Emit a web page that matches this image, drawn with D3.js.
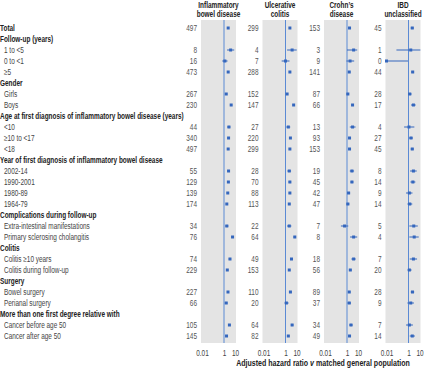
<!DOCTYPE html>
<html>
<head>
<meta charset="utf-8">
<script src="https://cdn.jsdelivr.net/npm/d3@7"></script>
<style>
  body { margin: 0; background: #fff; }
  svg text { font-family: "Liberation Sans", Arial, sans-serif; }
</style>
</head>
<body>
<div id="chart"></div>
<script>
// rows, top to bottom
const rowLabels = [
  "Total",
  "Follow-up (years)", "1 to <5", "0 to <1", "≥5",
  "Gender", "Girls", "Boys",
  "Age at first diagnosis of inflammatory bowel disease (years)", "<10", "≥10 to <17", "<18",
  "Year of first diagnosis of inflammatory bowel disease", "2002-14", "1990-2001", "1980-89", "1964-79",
  "Complications during follow-up", "Extra-intestinal manifestations", "Primary sclerosing cholangitis",
  "Colitis", "Colitis ≥10 years", "Colitis during follow-up",
  "Surgery", "Bowel surgery", "Perianal surgery",
  "More than one first degree relative with", "Cancer before age 50", "Cancer after age 50"
];
const rowKinds = [
  "total",
  "head", "item", "item", "item",
  "head", "item", "item",
  "head", "item", "item", "item",
  "head", "item", "item", "item", "item",
  "head", "item", "item",
  "head", "item", "item",
  "head", "item", "item",
  "head", "item", "item"
];

const panelTitles = [["Inflammatory", "bowel disease"], ["Ulcerative", "colitis"], ["Crohn’s", "disease"], ["IBD", "unclassified"]];

// number of cancers
const countsIBD  = [497, null, 8, 16, 473, null, 267, 230, null, 44, 340, 497, null, 55, 129, 139, 174, null, 34, 76, null, 74, 229, null, 227, 66, null, 105, 145];
const countsUC   = [299, null, 4, 7, 288, null, 152, 147, null, 27, 220, 299, null, 28, 70, 88, 113, null, 22, 64, null, 49, 153, null, 110, 20, null, 64, 82];
const countsCD   = [153, null, 3, 9, 141, null, 87, 66, null, 13, 93, 153, null, 19, 45, 42, 47, null, 7, 8, null, 18, 56, null, 89, 37, null, 34, 49];
const countsIBDU = [45, null, 1, 0, 44, null, 28, 17, null, 4, 27, 45, null, 8, 14, 9, 14, null, 5, 4, null, 7, 20, null, 28, 9, null, 7, 14];

// hazard ratios and 95% CI
const hrIBD = [2.4, null, 4.0, 1.2, 2.4, null, 1.6, 4.5, null, 2.8, 2.6, 2.4, null, 2.6, 2.5, 2.2, 1.8, null, 1.8, 6.0, null, 3.5, 2.0, null, 2.3, 1.6, null, 3.1, 1.7];
const loIBD = [2.2, null, 1.9, 0.7, 2.2, null, 1.4, 3.9, null, 2.0, 2.3, 2.2, null, 2.0, 2.1, 1.8, 1.5, null, 1.3, 4.7, null, 2.7, 1.7, null, 2.0, 1.2, null, 2.5, 1.4];
const hiIBD = [2.6, null, 8.5, 2.1, 2.6, null, 1.8, 5.2, null, 3.8, 2.9, 2.6, null, 3.4, 3.0, 2.6, 2.1, null, 2.5, 7.6, null, 4.4, 2.3, null, 2.6, 2.0, null, 3.8, 2.0];

const hrUC = [2.5, null, 4.0, 1.0, 2.5, null, 1.4, 5.5, null, 1.8, 2.8, 2.5, null, 2.2, 2.5, 2.5, 2.2, null, 2.2, 7.0, null, 3.5, 2.2, null, 2.8, 1.2, null, 4.0, 1.8];
const loUC = [2.2, null, 1.4, 0.45, 2.2, null, 1.2, 4.6, null, 1.2, 2.4, 2.2, null, 1.5, 1.9, 2.0, 1.8, null, 1.4, 5.4, null, 2.6, 1.9, null, 2.3, 0.8, null, 3.1, 1.4];
const hiUC = [2.8, null, 10.5, 2.3, 2.8, null, 1.7, 6.6, null, 2.7, 3.2, 2.8, null, 3.2, 3.2, 3.1, 2.7, null, 3.4, 9.0, null, 4.7, 2.6, null, 3.4, 1.9, null, 5.2, 2.3];

const hrCD = [1.7, null, 4.0, 1.9, 1.6, null, 1.2, 3.2, null, 3.2, 1.7, 1.7, null, 2.8, 2.8, 1.4, 1.2, null, 0.6, 4.0, null, 4.0, 2.0, null, 1.6, 1.6, null, 2.3, 1.7];
const loCD = [1.4, null, 1.0, 0.9, 1.3, null, 0.9, 2.5, null, 1.8, 1.4, 1.4, null, 1.8, 2.1, 1.0, 0.9, null, 0.28, 1.9, null, 2.5, 1.5, null, 1.3, 1.1, null, 1.6, 1.3];
const hiCD = [2.0, null, 8.5, 4.5, 1.9, null, 1.5, 4.2, null, 6.0, 2.1, 2.0, null, 4.4, 3.8, 1.9, 1.6, null, 1.3, 8.5, null, 6.2, 2.6, null, 2.0, 2.3, null, 3.3, 2.3];

const hrIBDU = [2.2, null, 1.6, 0.01, 2.4, null, 1.3, 2.8, null, 1.1, 1.7, 2.2, null, 2.8, 2.5, 1.2, 1.3, null, 3.0, 3.3, null, 2.8, 1.2, null, 2.3, 1.6, null, 1.2, 2.2];
const loIBDU = [1.6, null, 0.08, 0.01, 1.8, null, 0.9, 1.7, null, 0.4, 1.1, 1.6, null, 1.4, 1.5, 0.6, 0.8, null, 1.2, 1.2, null, 1.3, 0.8, null, 1.6, 0.8, null, 0.6, 1.3];
const hiIBDU = [3.0, null, 12, 0.9, 3.2, null, 1.9, 4.5, null, 3.4, 2.5, 3.0, null, 5.6, 4.2, 2.3, 2.2, null, 7.0, 8.5, null, 6.0, 1.9, null, 3.3, 3.1, null, 2.5, 3.8];

const tickValues = [0.01, 1, 10];

const panels = [
  { title: panelTitles[0], counts: countsIBD, hr: hrIBD, lo: loIBD, hi: hiIBD },
  { title: panelTitles[1], counts: countsUC, hr: hrUC, lo: loUC, hi: hiUC },
  { title: panelTitles[2], counts: countsCD, hr: hrCD, lo: loCD, hi: hiCD },
  { title: panelTitles[3], counts: countsIBDU, hr: hrIBDU, lo: loIBDU, hi: hiIBDU }
];

const W = 424, H = 368;
const blue = "#3567bd", lineBlue = "#5b8ad4", grey = "#e4e4e4";
const fs = 8.6;

const svg = d3.select("#chart").append("svg")
  .attr("width", W).attr("height", H);

// the source font is a narrow one; squeeze text horizontally to match
const probe = svg.append("text")
  .attr("font-size", fs).attr("font-weight", "bold")
  .text(rowLabels[8]);
const sx = 184 / probe.node().getComputedTextLength();
probe.remove();

const y = d3.scalePoint().domain(d3.range(rowLabels.length)).range([28, 336]);
const px = d3.scalePoint().domain(d3.range(panels.length)).range([202, 386.5]);
const plotW = 33;

// row labels
svg.append("g").selectAll("text")
  .data(rowLabels)
  .join("text")
  .attr("transform", (d, i) => `translate(${rowKinds[i] == "item" ? 4 : 0},${y(i)}) scale(${sx},1)`)
  .attr("dy", "0.35em")
  .attr("font-size", fs)
  .attr("font-weight", (d, i) => rowKinds[i] == "item" ? "normal" : "bold")
  .attr("fill", (d, i) => rowKinds[i] == "item" ? "#444" : "#222")
  .text(d => d);

panels.forEach((p, k) => {
  const left = px(k);
  const x = d3.scaleLog().domain([0.01, 10]).range([left, left + plotW]);
  const g = svg.append("g");

  g.append("rect")
    .attr("x", left - 1).attr("y", 20)
    .attr("width", plotW + 2).attr("height", 323)
    .attr("fill", grey);

  g.append("line")
    .attr("x1", x(1)).attr("x2", x(1))
    .attr("y1", 20).attr("y2", 343)
    .attr("stroke", lineBlue).attr("stroke-width", 1);

  // title
  g.append("g").selectAll("text")
    .data(p.title)
    .join("text")
    .attr("transform", (d, i) => `translate(${left + plotW / 2},${7.5 + i * 9.2}) scale(${sx},1)`)
    .attr("text-anchor", "middle")
    .attr("font-size", 8.6)
    .attr("font-weight", "bold")
    .attr("fill", "#222")
    .text(d => d);

  // counts
  g.append("g").selectAll("text")
    .data(p.counts.map((c, i) => ({ c, i })).filter(d => d.c != null))
    .join("text")
    .attr("transform", d => `translate(${left - 5},${y(d.i)}) scale(${sx},1)`)
    .attr("dy", "0.35em")
    .attr("text-anchor", "end")
    .attr("font-size", fs)
    .attr("fill", "#555")
    .text(d => d.c);

  const pts = p.hr.map((h, i) => ({ h, lo: p.lo[i], hi: p.hi[i], i })).filter(d => d.h != null);

  g.append("g").selectAll("line")
    .data(pts)
    .join("line")
    .attr("x1", d => x(d.lo)).attr("x2", d => x(d.hi))
    .attr("y1", d => y(d.i)).attr("y2", d => y(d.i))
    .attr("stroke", blue).attr("stroke-width", 1);

  g.append("g").selectAll("rect")
    .data(pts)
    .join("rect")
    .attr("x", d => x(d.h) - 1.5)
    .attr("y", d => y(d.i) - 1.5)
    .attr("width", 3).attr("height", 3)
    .attr("fill", blue);

  const axis = g.append("g")
    .attr("transform", `translate(0,347)`)
    .call(d3.axisBottom(x).tickValues(tickValues).tickSize(0).tickFormat(d => d == 0.01 ? "0.01" : String(d)));
  axis.select(".domain").remove();
  axis.selectAll("text")
    .attr("font-size", fs)
    .attr("fill", "#444")
    .attr("font-family", null)
    .attr("transform", `scale(${sx},1)`);
});

// axis title
const xt = svg.append("text")
  .attr("transform", `translate(323,366) scale(${sx},1)`)
  .attr("text-anchor", "middle")
  .attr("font-size", 9.4)
  .attr("font-weight", "bold")
  .attr("fill", "#222");
xt.append("tspan").text("Adjusted hazard ratio ");
xt.append("tspan").attr("font-style", "italic").text("v");
xt.append("tspan").text(" matched general population");
</script>
</body>
</html>
